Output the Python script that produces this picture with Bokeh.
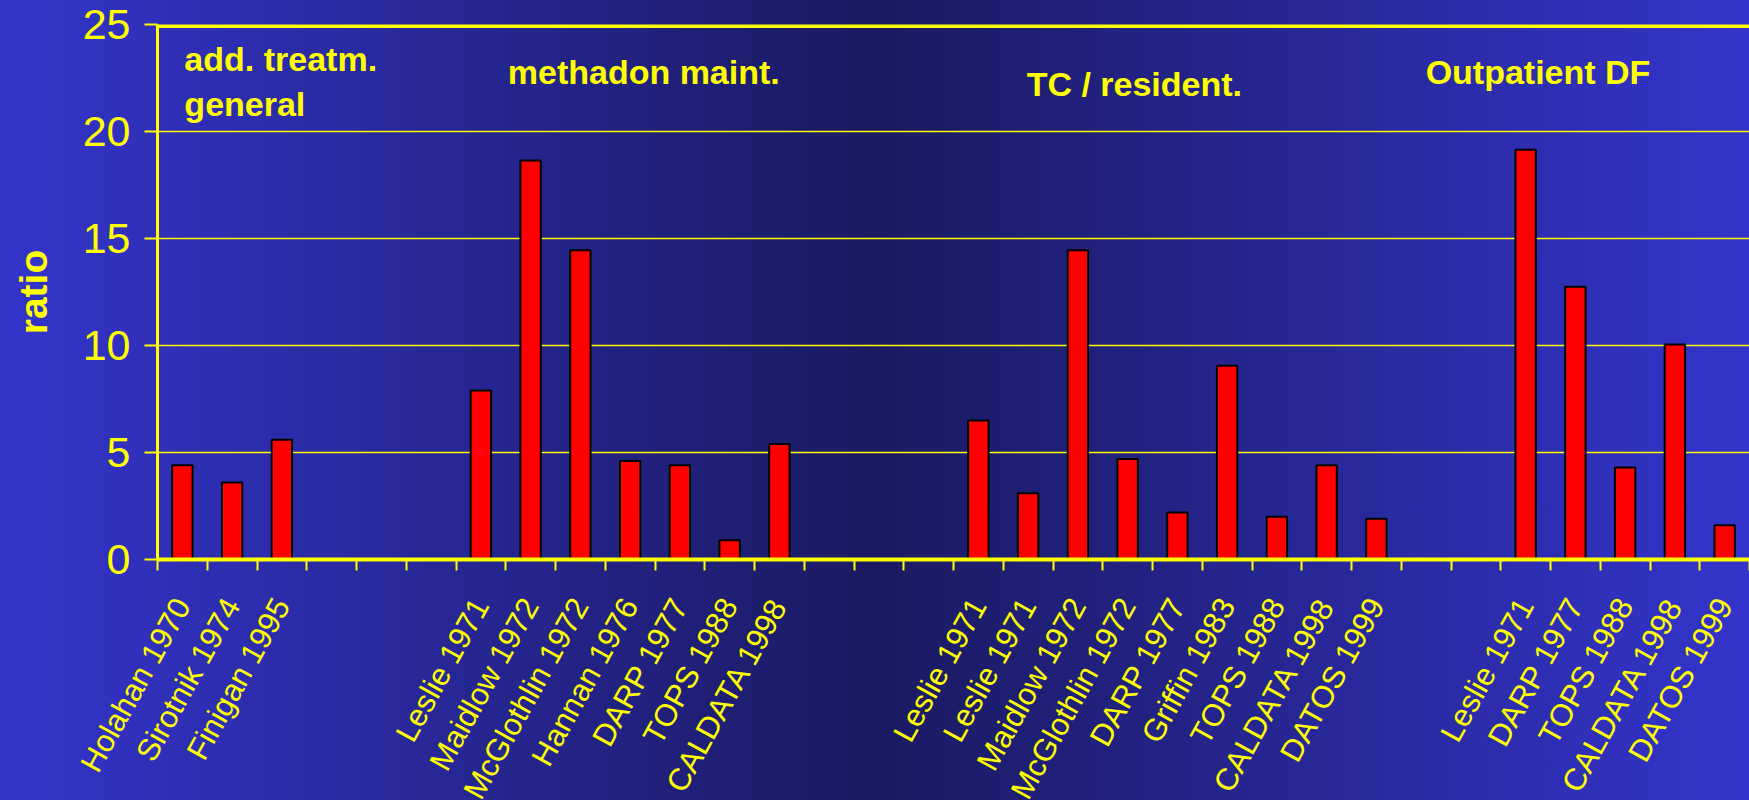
import math
from bokeh.plotting import figure
from bokeh.models import Range1d, FixedTicker, Span, Label, ColumnDataSource
from bokeh.embed import file_html
from bokeh.resources import INLINE

# ---- data ----
group_titles = ["add. treatm.", "methadon maint.", "TC / resident.", "Outpatient DF"]
group_subtitle = "general"

general_labels = ["Holahan 1970", "Sirotnik 1974", "Finigan 1995"]
general_values = [4.4, 3.6, 5.6]

methadon_labels = ["Leslie 1971", "Maidlow 1972", "McGlothlin 1972", "Hannan 1976",
                   "DARP 1977", "TOPS 1988", "CALDATA 1998"]
methadon_values = [7.9, 18.65, 14.45, 4.6, 4.4, 0.9, 5.4]

tc_labels = ["Leslie 1971", "Leslie 1971", "Maidlow 1972", "McGlothlin 1972",
             "DARP 1977", "Griffin 1983", "TOPS 1988", "CALDATA 1998", "DATOS 1999"]
tc_values = [6.5, 3.1, 14.45, 4.7, 2.2, 9.05, 2.0, 4.4, 1.9]

outpatient_labels = ["Leslie 1971", "DARP 1977", "TOPS 1988", "CALDATA 1998", "DATOS 1999"]
outpatient_values = [19.15, 12.75, 4.3, 10.05, 1.6]

empty_slots_after = [3, 3, 2, 0]
y_ticks = [0, 5, 10, 15, 20, 25]
y_label = "ratio"

# ---- build slots ----
groups = [(general_labels, general_values), (methadon_labels, methadon_values),
          (tc_labels, tc_values), (outpatient_labels, outpatient_values)]
xs, tops, names = [], [], []
slot = 0
for (labs, vals), gap in zip(groups, empty_slots_after):
    for lab, v in zip(labs, vals):
        xs.append(slot + 0.5)
        tops.append(v)
        names.append(lab)
        slot += 1
    slot += gap
n_slots = slot

YEL = "#FFFF00"
FONT = "Liberation Sans"

p = figure(frame_width=1592, frame_height=535, output_backend="svg", toolbar_location=None,
           x_range=Range1d(0, n_slots), y_range=Range1d(0, 25),
           min_border_left=157, min_border_right=0, min_border_top=24,
           min_border_bottom=241)
p.border_fill_color = None
p.background_fill_color = None
p.outline_line_color = None
p.styles = {
    "background": "linear-gradient(90deg, #3434cc 0%, #1a1a62 50%, #3434cc 100%)",
    "position": "fixed", "left": "0px", "top": "0px",
}

src = ColumnDataSource(dict(x=xs, top=tops, name=names))
p.vbar(x="x", top="top", width=0.41, source=src, fill_color="#FF0000",
       line_color="#000000", line_width=2)

# grid
p.xgrid.visible = False
p.ygrid.ticker = FixedTicker(ticks=y_ticks)
p.ygrid.grid_line_color = YEL
p.ygrid.grid_line_width = 1.5
p.add_layout(Span(location=25, dimension="width", line_color=YEL, line_width=7))

# y axis
ya = p.yaxis[0]
ya.ticker = FixedTicker(ticks=y_ticks)
ya.axis_line_color = YEL
ya.axis_line_width = 3
ya.major_tick_line_color = YEL
ya.major_tick_line_width = 2
ya.major_tick_out = 13
ya.major_tick_in = 0
ya.minor_tick_line_color = None
ya.major_label_text_color = YEL
ya.major_label_text_font = FONT
ya.major_label_text_font_size = "43px"
ya.major_label_standoff = 14
ya.axis_label = y_label
ya.axis_label_text_color = YEL
ya.axis_label_text_font = FONT
ya.axis_label_text_font_style = "bold"
ya.axis_label_text_font_size = "39px"
ya.axis_label_standoff = 25

# x axis
xa = p.xaxis[0]
xa.ticker = FixedTicker(ticks=xs, minor_ticks=list(range(0, n_slots + 1)))
xa.major_label_overrides = {float(x): n for x, n in zip(xs, names)}
xa.axis_line_color = YEL
xa.axis_line_width = 4
xa.major_tick_line_color = None
xa.major_tick_out = 0
xa.major_tick_in = 0
xa.minor_tick_line_color = YEL
xa.minor_tick_line_width = 2
xa.minor_tick_out = 11
xa.minor_tick_in = 0
xa.major_label_orientation = math.radians(61)
xa.major_label_text_color = YEL
xa.major_label_text_font = FONT
xa.major_label_text_font_size = "31px"
xa.major_label_standoff = 30

# group titles
title_pos = [(0.54, 23.4), (7.04, 22.8), (17.47, 22.2), (25.49, 22.8)]
for t, (gx, gy) in zip(group_titles, title_pos):
    p.add_layout(Label(x=gx, y=gy, text=t, text_color=YEL, text_font=FONT,
                       text_font_style="bold", text_font_size="34px",
                       text_baseline="alphabetic", text_align="left"))
p.add_layout(Label(x=0.54, y=21.3, text=group_subtitle, text_color=YEL, text_font=FONT,
                   text_font_style="bold", text_font_size="34px",
                   text_baseline="alphabetic", text_align="left"))

open("out.html", "w").write(file_html(p, INLINE))
